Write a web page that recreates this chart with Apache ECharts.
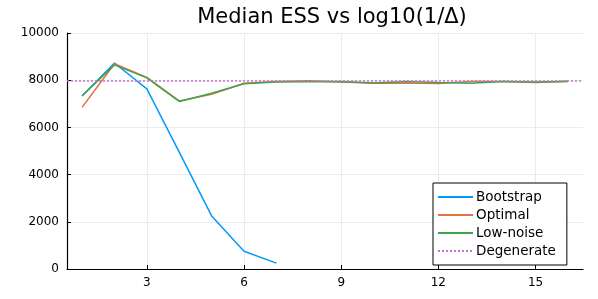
<!DOCTYPE html>
<html><head><meta charset="utf-8">
<script src="https://cdn.jsdelivr.net/npm/echarts@6/dist/echarts.min.js"></script>
<style>html,body{margin:0;padding:0;background:#fff}#c{width:598px;height:299px}</style>
</head><body><div id="c"></div>
<script>
const xs = [1,2,3,4,5,6,7,8,9,10,11,12,13,14,15,16];
const bootstrap = [7330,8730,7630,4950,2250,750,250];
const optimal = [6850,8700,8120,7120,7400,7870,7950,7980,7920,7870,7880,7860,7940,7950,7900,7960];
const lowNoise = [7340,8650,8100,7100,7450,7850,7920,7930,7940,7880,7940,7900,7870,7950,7920,7950];
const degenerate = 7960;
const xTicks = [3,6,9,12,15];
const names = ['Bootstrap','Optimal','Low-noise','Degenerate'];
const colors = ['#009AFA','#E36F47','#3EA44E','#C371D2'];

const pair = (arr) => arr.map((v,i)=>[xs[i],v]);
const font = 'DejaVu Sans';
const chart = echarts.init(document.getElementById('c'));
chart.setOption({
  animation:false,
  textStyle:{fontFamily:font},
  title:{text:'Median ESS vs log10(1/Δ)',left:327,textAlign:'center',top:2,
    textStyle:{fontFamily:font,fontSize:21,fontWeight:'normal',color:'#000'}},
  grid:{left:67,right:15,top:33,bottom:30,containLabel:false},
  legend:{
    orient:'vertical',left:433,top:183,
    itemWidth:35,itemHeight:12,itemGap:4,padding:[7,11,7,4],
    borderColor:'#000',borderWidth:1,backgroundColor:'#fff',
    itemStyle:{opacity:0},
    textStyle:{fontFamily:font,fontSize:13.5,color:'#000',padding:[0,0,0,-2]},
    data:names
  },
  xAxis:{type:'value',min:0.535,max:16.465,
    axisLine:{onZero:false,lineStyle:{color:'#000',width:1.2}},
    axisTick:{inside:true,length:4,customValues:xTicks,lineStyle:{color:'#000'}},
    axisLabel:{customValues:xTicks,color:'#000',fontSize:12,fontFamily:font,margin:8},
    splitLine:{show:true,lineStyle:{color:'#ebebeb',width:1}}
  },
  yAxis:{type:'value',min:0,max:10000,interval:2000,
    axisLine:{show:true,lineStyle:{color:'#000',width:1.2}},
    axisTick:{show:true,inside:true,length:4,lineStyle:{color:'#000'}},
    axisLabel:{color:'#000',fontSize:12,fontFamily:font,margin:8,formatter:v=>String(v)},
    splitLine:{show:true,lineStyle:{color:'#ebebeb',width:1}}
  },
  series:[
    {name:names[0],type:'line',data:pair(bootstrap),symbol:'none',showSymbol:false,color:colors[0],lineStyle:{width:1.5,color:colors[0]}},
    {name:names[1],type:'line',data:pair(optimal),symbol:'none',showSymbol:false,color:colors[1],lineStyle:{width:1.5,color:colors[1]}},
    {name:names[2],type:'line',data:pair(lowNoise),symbol:'none',showSymbol:false,color:colors[2],lineStyle:{width:1.5,color:colors[2]}},
    {name:names[3],type:'line',data:[],symbol:'none',showSymbol:false,color:colors[3],lineStyle:{width:1.5,type:[2,2],color:colors[3]},
      markLine:{silent:true,symbol:'none',label:{show:false},
        lineStyle:{color:colors[3],width:1.5,type:[2,2]},
        data:[{yAxis:degenerate}]}}
  ]
});
</script></body></html>
